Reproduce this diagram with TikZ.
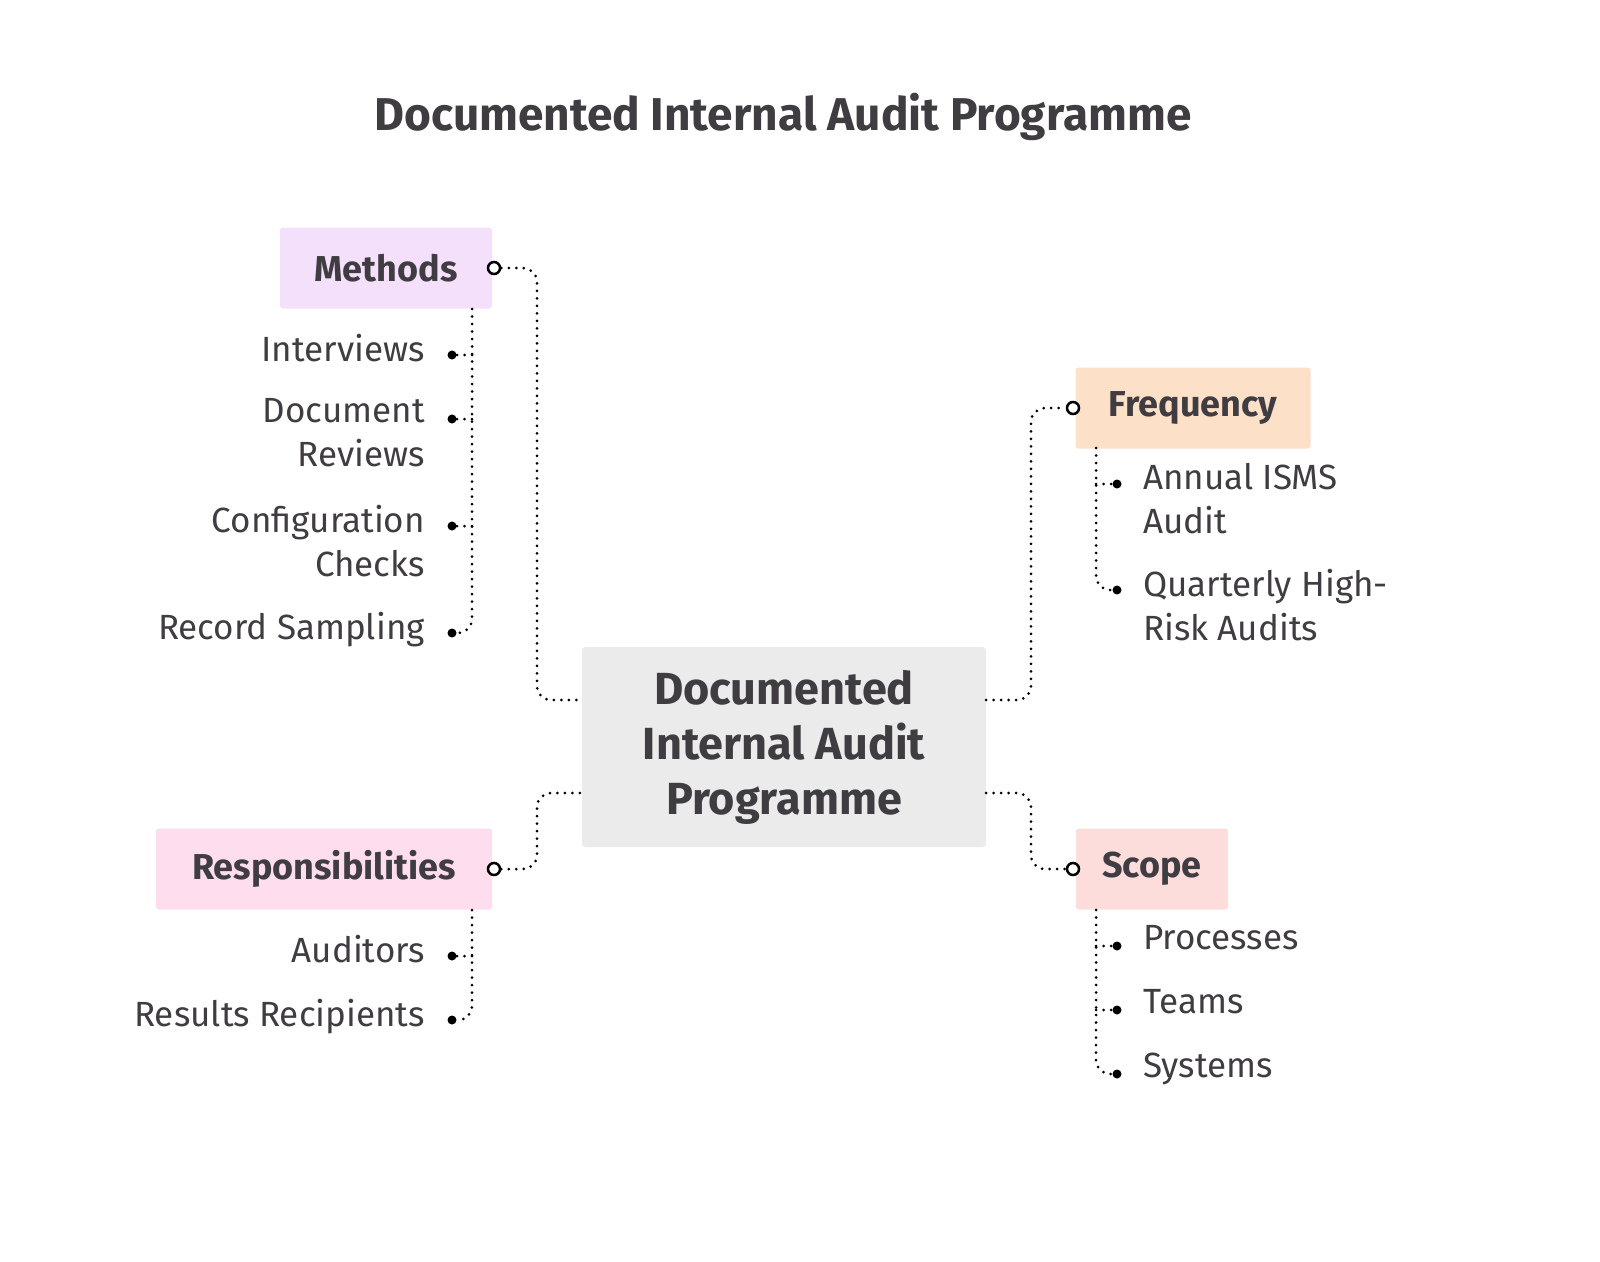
\documentclass[tikz,border=0pt]{standalone}
\usepackage{fontspec}
\setmainfont{Fira Sans}
\definecolor{txt}{HTML}{3F3C42}
\tikzset{
 dots/.style={line width=3pt,line cap=round,dash pattern=on 0pt off 7.5pt,rounded corners=14pt,black},
 cat/.style={font=\fontsize{36}{40}\selectfont\bfseries,text=txt,inner sep=0pt,minimum height=81pt},
 leafL/.style={font=\fontsize{35}{44}\selectfont,text=txt,align=right,anchor=north east,inner sep=0pt},
 leafR/.style={font=\fontsize{35}{44}\selectfont,text=txt,align=left,anchor=north west,inner sep=0pt},
 ring/.style={circle,draw,line width=2.5pt,fill=white,minimum size=12pt,inner sep=0pt},
 bul/.style={circle,fill=black,minimum size=9pt,inner sep=0pt}
}
\begin{document}
\begin{tikzpicture}[x=1pt,y=-1pt]
\useasboundingbox (0,0) rectangle (1600,1261);
\node[font=\fontsize{46}{52}\selectfont\bfseries,text=txt] (title) at (783,117) {Documented Internal Audit Programme};
% center
\node[fill=black!8,rounded corners=3pt,minimum width=404pt,minimum height=200pt,font=\fontsize{45}{55}\selectfont\bfseries,text=txt,align=center] (c) at (784,747) {Documented\\Internal Audit\\Programme};
% category boxes
\node[cat,fill={rgb,255:red,244;green,224;blue,250},minimum width=212pt,rounded corners=3pt] (m) at (386,268) {Methods};
\node[cat,fill={rgb,255:red,253;green,224;blue,200},minimum width=235pt,rounded corners=3pt] (f) at (1193,408) {Frequency};
\node[cat,fill={rgb,255:red,253;green,220;blue,220},minimum width=152pt,rounded corners=3pt] (s) at (1152,869) {Scope};
\node[cat,fill={rgb,255:red,253;green,221;blue,238},minimum width=336pt,rounded corners=3pt] (r) at (324,869) {Responsibilities};
% rings
\node[ring] (mr) at (494,268) {};
\node[ring] (fr) at (1073,408) {};
\node[ring] (sr) at (1073,869) {};
\node[ring] (rr) at (494,869) {};
\coordinate (cl1) at (582,700); \coordinate (cl2) at (582,793);
\coordinate (cr1) at (986,700); \coordinate (cr2) at (986,793);
\draw[dots] (mr) -| (537,450) |- (cl1);
\draw[dots] (rr) -| (537,830) |- (cl2);
\draw[dots] (cr1) -| (1031,550) |- (fr);
\draw[dots] (cr2) -| (1031,830) |- (sr);
% methods leaves
\foreach \n/\y in {m1/355,m2/419,m3/526,m4/633}{\node[bul] (\n) at (452,\y) {};}
\node[leafL] at (425,334) {Interviews};
\node[leafL] at (425,398) {Document\\Reviews};
\node[leafL] at (425,505) {Configuration\\Checks};
\node[leafL] at (425,612) {Record Sampling};
\coordinate (mt) at (472,309);
\draw[dots] (mt) |- (m4);
\foreach \n in {m1,m2,m3}{\draw[dots] (472,0 |- \n) -- (\n);}
% responsibilities leaves
\foreach \n/\y in {r1/956,r2/1020}{\node[bul] (\n) at (452,\y) {};}
\node[leafL] at (425,935) {Auditors};
\node[leafL] at (425,999) {Results Recipients};
\coordinate (rt) at (472,910);
\draw[dots] (rt) |- (r2);
\draw[dots] (472,0 |- r1) -- (r1);
% frequency leaves
\foreach \n/\y in {f1/484,f2/590}{\node[bul] (\n) at (1117,\y) {};}
\node[leafR] at (1143,463) {Annual ISMS\\Audit};
\node[leafR] at (1143,569) {Quarterly High-\\Risk Audits};
\coordinate (ft) at (1096,448);
\draw[dots] (ft) |- (f2);
\draw[dots] (1096,0 |- f1) -- (f1);
% scope leaves
\foreach \n/\y in {s1/946,s2/1010,s3/1074}{\node[bul] (\n) at (1117,\y) {};}
\node[leafR] at (1143,925) {Processes};
\node[leafR] at (1143,989) {Teams};
\node[leafR] at (1143,1053) {Systems};
\coordinate (st) at (1096,910);
\draw[dots] (st) |- (s3);
\foreach \n in {s1,s2}{\draw[dots] (1096,0 |- \n) -- (\n);}
\end{tikzpicture}
\end{document}
